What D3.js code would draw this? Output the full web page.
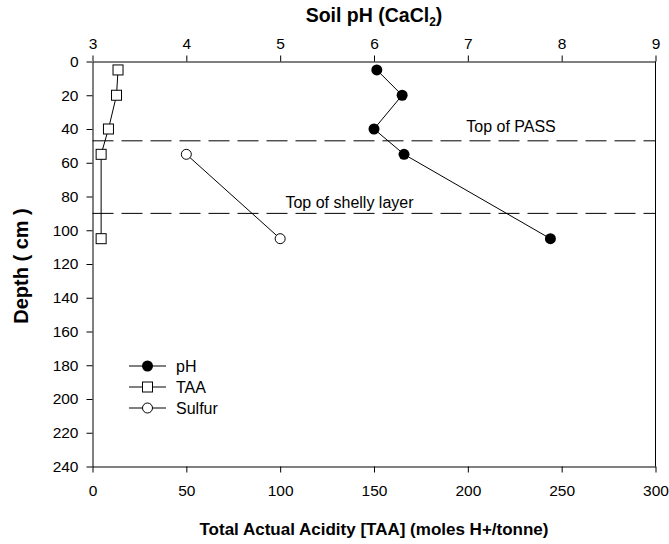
<!DOCTYPE html>
<html><head><meta charset="utf-8">
<script src="https://cdn.jsdelivr.net/npm/d3@7"></script>
<style>body{margin:0;background:#fff}svg{display:block}text{font-family:"Liberation Sans",Arial,sans-serif;fill:#000}</style>
</head><body><svg id="c" width="669" height="544"></svg>
<script>
const depths = [5, 20, 40, 55, 105];
const phValues = [6.03, 6.3, 6.0, 6.32, 7.88];
const taaValues = [13.6, 12.8, 8.5, 4.6, 4.6];
const sulfurDepths = [55, 105];
const sulfurValues = [50, 100];
const boundaryDepths = [47, 90];
const boundaryLabels = ["Top of PASS", "Top of shelly layer"];
const depthTicks = d3.range(0, 241, 20);
const taaTicks = [0, 50, 100, 150, 200, 250, 300];
const phTicks = [3, 4, 5, 6, 7, 8, 9];
const legendItems = ["pH", "TAA", "Sulfur"];

const L = 92.5, R = 655.5, T = 61.5, B = 466.5;
const svg = d3.select("#c");
const y = d3.scaleLinear().domain([0, 240]).range([T, B]);
const xT = d3.scaleLinear().domain([0, 300]).range([L, R]);
const xP = d3.scaleLinear().domain([3, 9]).range([L, R]);

function styleAxis(g, size) {
  g.select(".domain").attr("stroke", "#000");
  g.selectAll(".tick line").attr("stroke", "#000");
  g.selectAll(".tick text").attr("font-size", size).attr("fill", "#000")
    .style("font-family", '"Liberation Sans",Arial,sans-serif');
}
svg.append("g").attr("transform", `translate(${L},0)`)
  .call(d3.axisLeft(y).tickValues(depthTicks).tickSize(6).tickPadding(8).tickSizeOuter(0))
  .call(g => styleAxis(g, 15.5));
svg.append("g").attr("transform", `translate(0,${B})`)
  .call(d3.axisBottom(xT).tickValues(taaTicks).tickSize(6).tickPadding(12).tickSizeOuter(0))
  .call(g => styleAxis(g, 15.5));
svg.append("g").attr("transform", `translate(0,${T})`)
  .call(d3.axisTop(xP).tickValues(phTicks).tickFormat(d3.format("d")).tickSize(6).tickPadding(7).tickSizeOuter(0))
  .call(g => styleAxis(g, 15.5));
svg.append("line").attr("x1", R).attr("x2", R).attr("y1", T).attr("y2", B).attr("stroke", "#000");

// boundaries
svg.selectAll(".bnd").data(boundaryDepths).join("line")
  .attr("x1", L).attr("x2", R).attr("y1", d => y(d)).attr("y2", d => y(d))
  .attr("stroke", "#000").attr("stroke-width", 1).attr("stroke-dasharray", "21,8");
svg.append("text").attr("x", 511).attr("y", y(boundaryDepths[0]) - 8.5).attr("text-anchor", "middle")
  .attr("font-size", 16).text(boundaryLabels[0]);
svg.append("text").attr("x", 349.5).attr("y", y(boundaryDepths[1]) - 5).attr("text-anchor", "middle")
  .attr("font-size", 16).text(boundaryLabels[1]);

const line = d3.line();
// TAA
const taaPts = depths.map((d, i) => [xT(taaValues[i]), y(d)]);
svg.append("path").attr("d", line(taaPts)).attr("fill", "none").attr("stroke", "#000");
svg.selectAll(".sq").data(taaPts).join("rect")
  .attr("x", d => d[0] - 5).attr("y", d => d[1] - 5).attr("width", 10).attr("height", 10)
  .attr("fill", "#fff").attr("stroke", "#000");
// Sulfur
const sPts = sulfurDepths.map((d, i) => [xT(sulfurValues[i]), y(d)]);
svg.append("path").attr("d", line(sPts)).attr("fill", "none").attr("stroke", "#000");
svg.selectAll(".oc").data(sPts).join("circle")
  .attr("cx", d => d[0]).attr("cy", d => d[1]).attr("r", 5)
  .attr("fill", "#fff").attr("stroke", "#000");
// pH
const phPts = depths.map((d, i) => [xP(phValues[i]), y(d)]);
svg.append("path").attr("d", line(phPts)).attr("fill", "none").attr("stroke", "#000");
svg.selectAll(".fc").data(phPts).join("circle")
  .attr("cx", d => d[0]).attr("cy", d => d[1]).attr("r", 5.5).attr("fill", "#000");

// legend
const ly = [366, 387, 408];
legendItems.forEach((name, i) => {
  const g = svg.append("g");
  g.append("line").attr("x1", 129).attr("x2", 166).attr("y1", ly[i]).attr("y2", ly[i]).attr("stroke", "#000");
  if (i === 0) g.append("circle").attr("cx", 147.5).attr("cy", ly[i]).attr("r", 5.5).attr("fill", "#000");
  else if (i === 1) g.append("rect").attr("x", 142.5).attr("y", ly[i] - 5).attr("width", 10).attr("height", 10).attr("fill", "#fff").attr("stroke", "#000");
  else g.append("circle").attr("cx", 147.5).attr("cy", ly[i]).attr("r", 5).attr("fill", "#fff").attr("stroke", "#000");
  g.append("text").attr("x", 176).attr("y", ly[i] + 5.5).attr("font-size", 16).text(name);
});

// titles
const t = svg.append("text").attr("x", 374).attr("y", 21.5).attr("text-anchor", "middle")
  .attr("font-size", 19.5).attr("font-weight", "bold");
t.append("tspan").text("Soil pH (CaCl");
t.append("tspan").attr("font-size", 12).attr("dy", 4).text("2");
t.append("tspan").attr("dy", -4).text(")");
svg.append("text").attr("x", 374).attr("y", 535).attr("text-anchor", "middle")
  .attr("font-size", 17).attr("font-weight", "bold").text("Total Actual Acidity [TAA] (moles H+/tonne)");
svg.append("text").attr("transform", `translate(27.5,266) rotate(-90)`).attr("text-anchor", "middle")
  .attr("font-size", 20).attr("font-weight", "bold").text("Depth ( cm )");
</script></body></html>
